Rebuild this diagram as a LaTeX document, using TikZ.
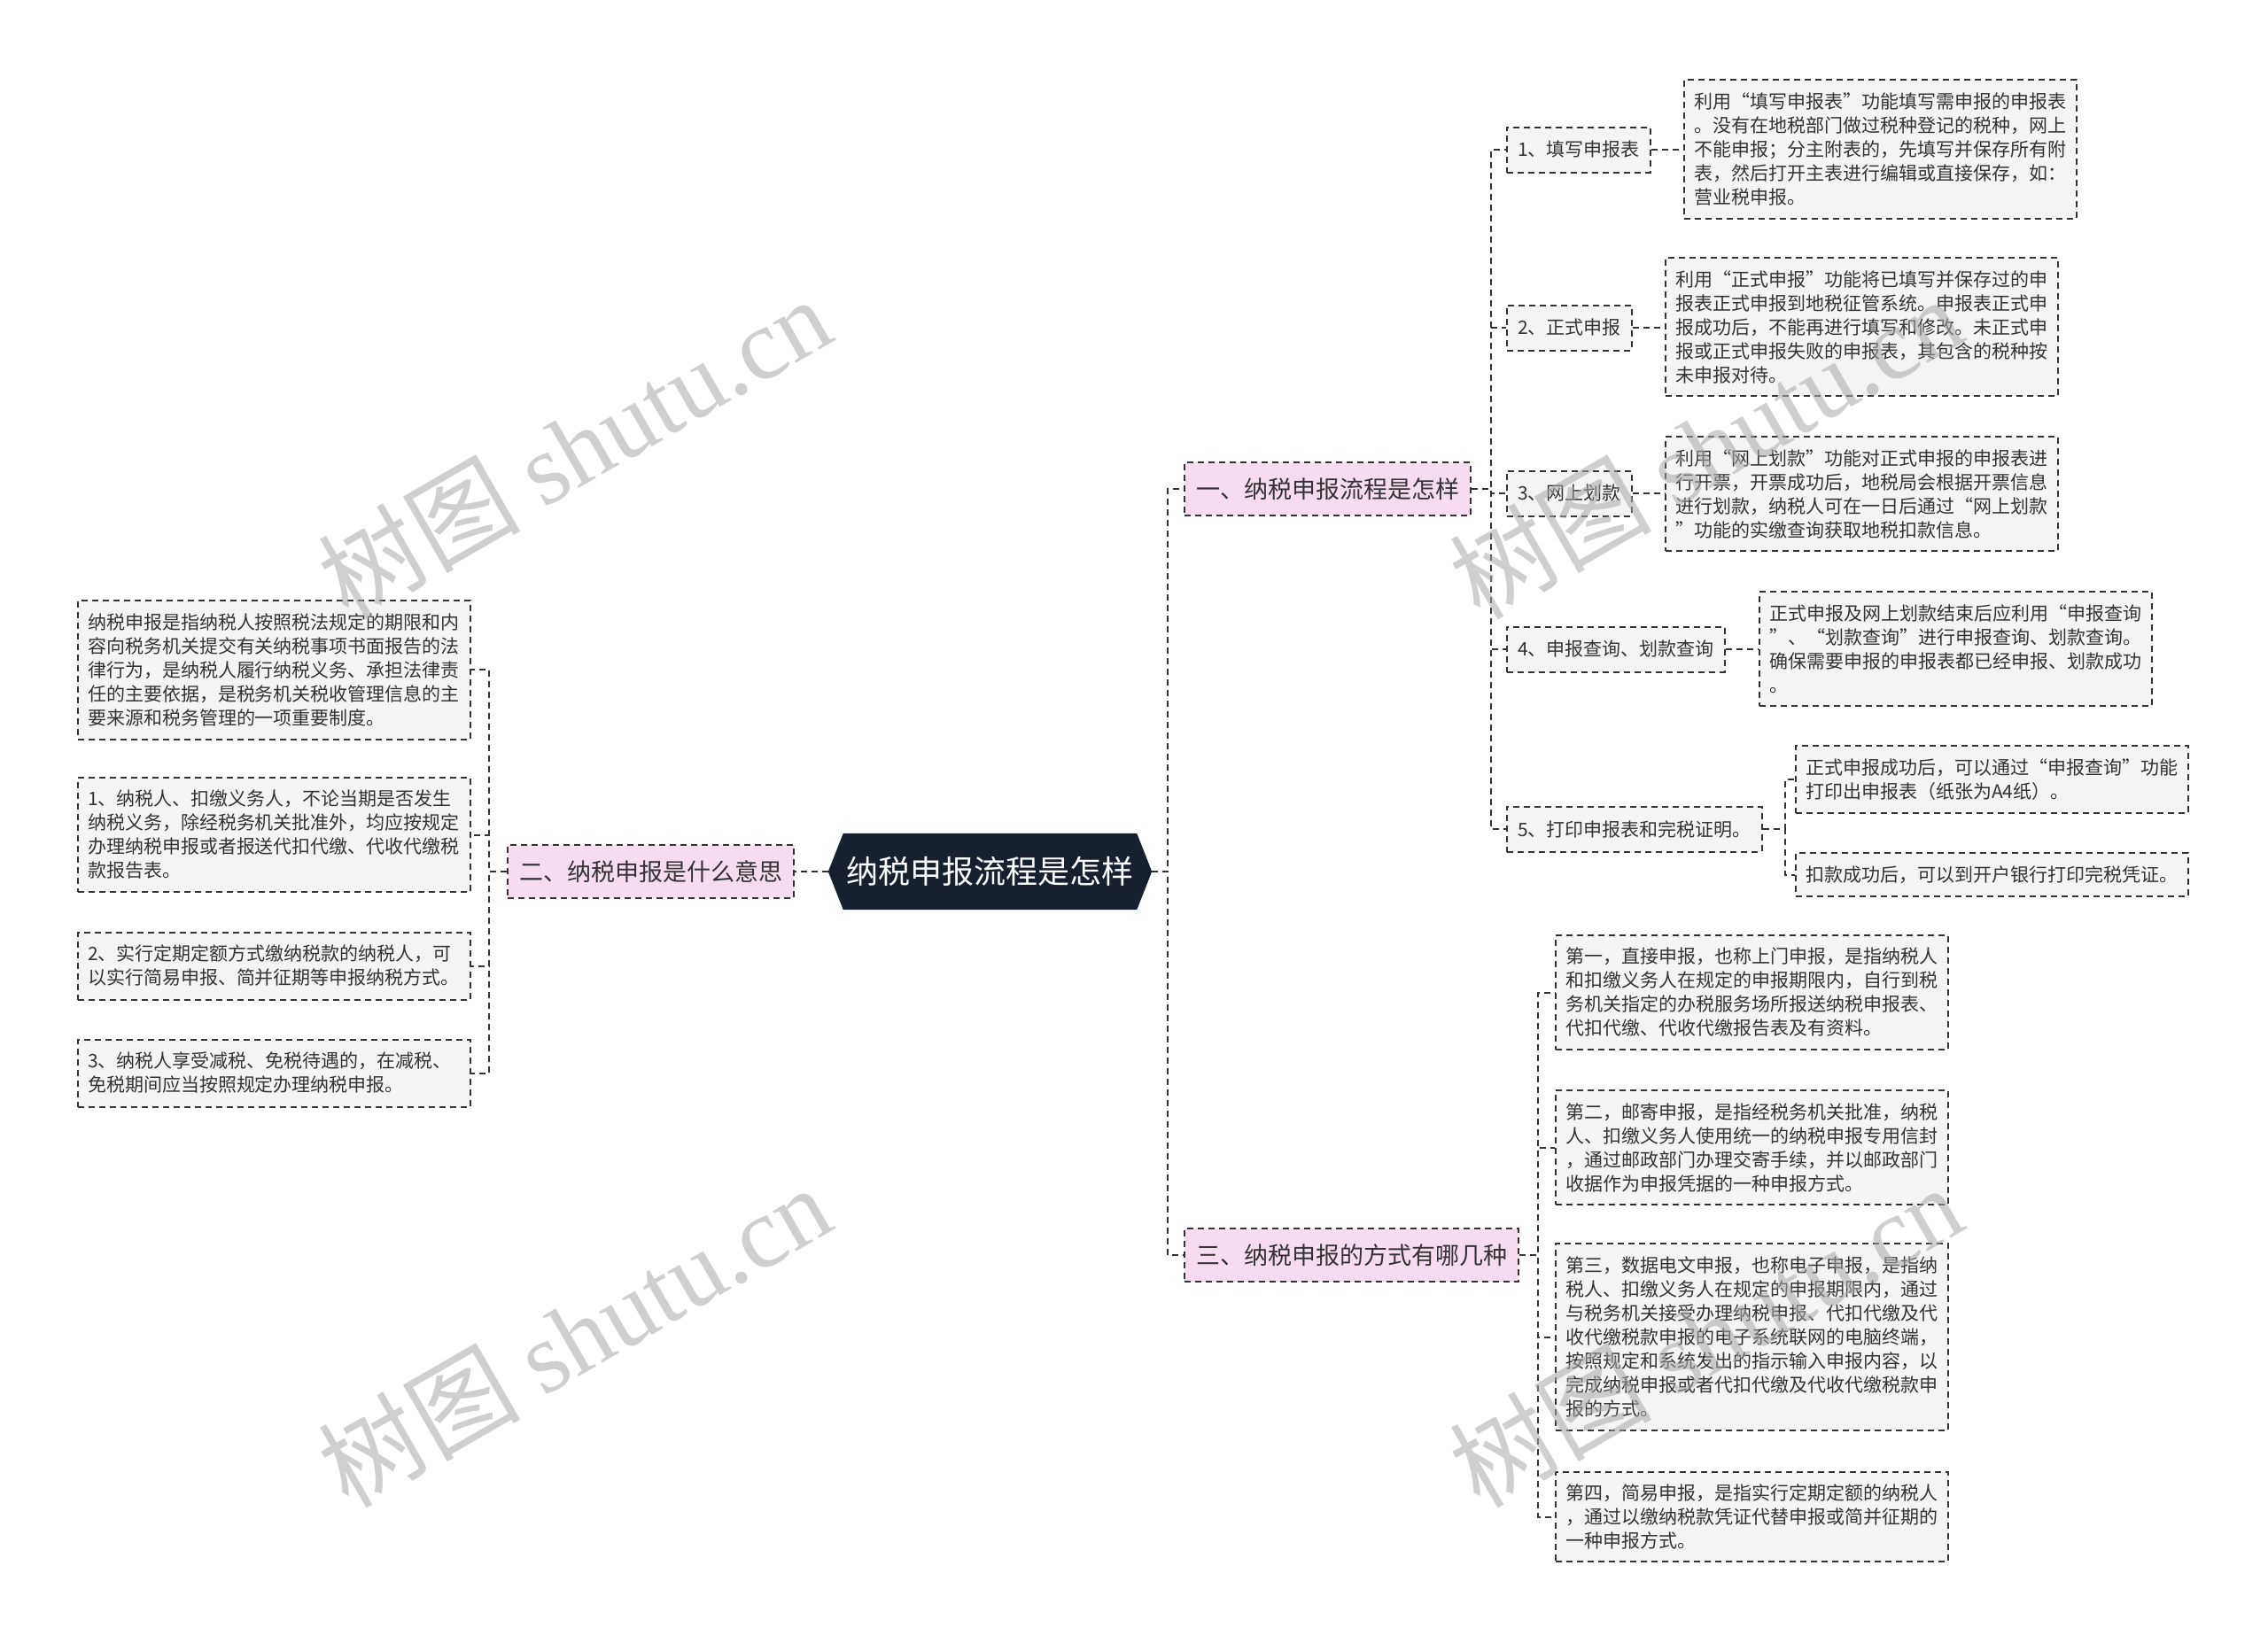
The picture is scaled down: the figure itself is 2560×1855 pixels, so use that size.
\documentclass[tikz,border=0pt]{standalone}
\usepackage{fontspec}
\setmainfont{Noto Sans CJK SC}
\newfontfamily\wmlatin{Liberation Serif}
\usetikzlibrary{calc}
\definecolor{rootfill}{HTML}{16202E}
\definecolor{pinkfill}{HTML}{F5DCF0}
\definecolor{leaffill}{HTML}{F4F4F4}
\definecolor{edgecol}{HTML}{333333}
\definecolor{txt}{HTML}{333333}
\definecolor{wmcol}{HTML}{A8A8A8}
\pgfdeclarelayer{bg}
\pgfsetlayers{bg,main}
\begin{document}
\begin{tikzpicture}[x=1pt,y=-1pt,
  dashline/.style={draw=edgecol, line width=2pt, dash pattern=on 7pt off 5pt},
  conn/.style={dashline},
  rootnode/.style={minimum width=365pt, minimum height=86pt, inner sep=0pt, text=white, font=\fontsize{36pt}{40pt}\selectfont},
  topic/.style={dashline, fill=pinkfill, minimum height=60pt, inner xsep=13pt, inner ysep=0pt, text=txt, font=\fontsize{27pt}{30pt}\selectfont},
  sub/.style={dashline, fill=leaffill, minimum height=51pt, inner xsep=12pt, inner ysep=0pt, text=txt, font=\fontsize{21pt}{25pt}\selectfont},
  leaf/.style={dashline, fill=leaffill, text width=421pt, align=left, inner xsep=11pt, inner ysep=0pt, text=txt, font=\fontsize{21pt}{27pt}\selectfont},
  wm/.style={rotate=30, text=wmcol, text opacity=0.55, font=\fontsize{114pt}{114pt}\selectfont}
]
\begin{pgfonlayer}{bg}
\fill[white] (0,0) rectangle (2560,1855);
\end{pgfonlayer}
\useasboundingbox (0,0) rectangle (2560,1855);

% root
\node[rootnode] (root) at (1117.5,984) {纳税申报流程是怎样};
\begin{pgfonlayer}{bg}
\fill[rootfill] ([xshift=17pt]root.north west) -- ([xshift=-17pt]root.north east) -- (root.east) -- ([xshift=-17pt]root.south east) -- ([xshift=17pt]root.south west) -- (root.west) -- cycle;
\end{pgfonlayer}

% topics
\node[topic, anchor=west] (n1) at (1336,552) {一、纳税申报流程是怎样};
\node[topic, anchor=east] (n2) at (897,984) {二、纳税申报是什么意思};
\node[topic, anchor=west] (n3) at (1336,1417) {三、纳税申报的方式有哪几种};

% sub topics of n1
\node[sub, anchor=west] (a1) at (1700,169) {1、填写申报表};
\node[sub, anchor=west] (a2) at (1700,370) {2、正式申报};
\node[sub, anchor=west] (a3) at (1700,557) {3、网上划款};
\node[sub, anchor=west] (a4) at (1700,733) {4、申报查询、划款查询};
\node[sub, anchor=west] (a5) at (1700,936) {5、打印申报表和完税证明。};

% leaves of n1
\node[leaf, anchor=west, minimum height=157pt] (l1) at (1900,168.5) {利用“填写申报表”功能填写需申报的申报表\\。没有在地税部门做过税种登记的税种，网上\\不能申报；分主附表的，先填写并保存所有附\\表，然后打开主表进行编辑或直接保存，如：\\营业税申报。};
\node[leaf, anchor=west, minimum height=156pt] (l2) at (1879,369) {利用“正式申报”功能将已填写并保存过的申\\报表正式申报到地税征管系统。申报表正式申\\报成功后，不能再进行填写和修改。未正式申\\报或正式申报失败的申报表，其包含的税种按\\未申报对待。};
\node[leaf, anchor=west, minimum height=129pt] (l3) at (1879,557.5) {利用“网上划款”功能对正式申报的申报表进\\行开票，开票成功后，地税局会根据开票信息\\进行划款，纳税人可在一日后通过“网上划款\\”功能的实缴查询获取地税扣款信息。};
\node[leaf, anchor=west, minimum height=129pt] (l4) at (1985,732.5) {正式申报及网上划款结束后应利用“申报查询\\”、“划款查询”进行申报查询、划款查询。\\确保需要申报的申报表都已经申报、划款成功\\。};
\node[leaf, anchor=west, minimum height=76pt] (l5a) at (2026,880) {正式申报成功后，可以通过“申报查询”功能\\打印出申报表（纸张为A4纸）。};
\node[leaf, anchor=west, minimum height=49pt] (l5b) at (2026,987.5) {扣款成功后，可以到开户银行打印完税凭证。};

% leaves of n3
\node[leaf, anchor=west, minimum height=129pt] (b1) at (1755,1120.5) {第一，直接申报，也称上门申报，是指纳税人\\和扣缴义务人在规定的申报期限内，自行到税\\务机关指定的办税服务场所报送纳税申报表、\\代扣代缴、代收代缴报告表及有资料。};
\node[leaf, anchor=west, minimum height=129pt] (b2) at (1755,1295.5) {第二，邮寄申报，是指经税务机关批准，纳税\\人、扣缴义务人使用统一的纳税申报专用信封\\，通过邮政部门办理交寄手续，并以邮政部门\\收据作为申报凭据的一种申报方式。};
\node[leaf, anchor=west, minimum height=211pt] (b3) at (1755,1509.5) {第三，数据电文申报，也称电子申报，是指纳\\税人、扣缴义务人在规定的申报期限内，通过\\与税务机关接受办理纳税申报、代扣代缴及代\\收代缴税款申报的电子系统联网的电脑终端，\\按照规定和系统发出的指示输入申报内容，以\\完成纳税申报或者代扣代缴及代收代缴税款申\\报的方式。};
\node[leaf, anchor=west, minimum height=101pt] (b4) at (1755,1712.5) {第四，简易申报，是指实行定期定额的纳税人\\，通过以缴纳税款凭证代替申报或简并征期的\\一种申报方式。};

% leaves of n2
\node[leaf, anchor=east, minimum height=157pt] (c1) at (532,756) {纳税申报是指纳税人按照税法规定的期限和内\\容向税务机关提交有关纳税事项书面报告的法\\律行为，是纳税人履行纳税义务、承担法律责\\任的主要依据，是税务机关税收管理信息的主\\要来源和税务管理的一项重要制度。};
\node[leaf, anchor=east, minimum height=129pt] (c2) at (532,942.5) {1、纳税人、扣缴义务人，不论当期是否发生\\纳税义务，除经税务机关批准外，均应按规定\\办理纳税申报或者报送代扣代缴、代收代缴税\\款报告表。};
\node[leaf, anchor=east, minimum height=76pt] (c3) at (532,1090.5) {2、实行定期定额方式缴纳税款的纳税人，可\\以实行简易申报、简并征期等申报纳税方式。};
\node[leaf, anchor=east, minimum height=76pt] (c4) at (532,1211.5) {3、纳税人享受减税、免税待遇的，在减税、\\免税期间应当按照规定办理纳税申报。};

% connectors
\draw[conn] (root.west) -- (n2.east);
\draw[conn] (root.east) -- ++(18,0) |- (n1.west);
\draw[conn] (root.east) -- ++(18,0) |- (n3.west);
\foreach \i in {1,...,5} {\draw[conn] (n1.east) -- ++(22,0) |- (a\i.west);}
\draw[conn] (a1.east) -- (a1.east -| l1.west);
\draw[conn] (a2.east) -- (a2.east -| l2.west);
\draw[conn] (a3.east) -- (a3.east -| l3.west);
\draw[conn] (a4.east) -- (a4.east -| l4.west);
\draw[conn] (a5.east) -- ++(25,0) |- (l5a.west);
\draw[conn] (a5.east) -- ++(25,0) |- (l5b.west);
\foreach \i in {1,...,4} {\draw[conn] (n3.east) -- ++(21,0) |- (b\i.west);}
\foreach \i in {1,...,4} {\draw[conn] (n2.west) -- ++(-20,0) |- (c\i.east);}

% watermarks
\node[wm] (w1) at (648,505) {树图 {\wmlatin shutu.cn}};
\node[wm] (w2) at (648,1508) {树图 {\wmlatin shutu.cn}};
\node[wm] (w3) at (1925,505) {树图 {\wmlatin shutu.cn}};
\node[wm] (w4) at (1925,1508) {树图 {\wmlatin shutu.cn}};
\end{tikzpicture}
\end{document}
